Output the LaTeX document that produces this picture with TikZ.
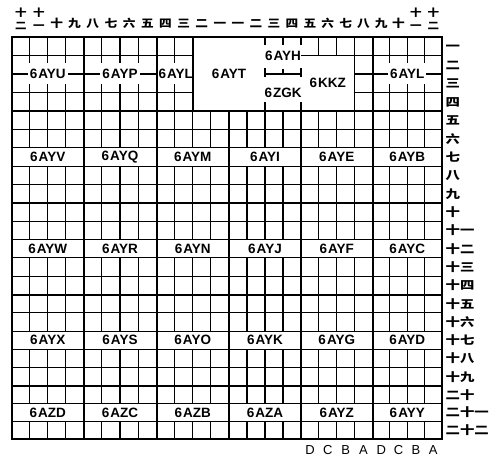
\documentclass[tikz,border=0pt]{standalone}
\usepackage{fontspec}
\usetikzlibrary{calc}
\setmainfont{Liberation Sans}
\newfontfamily\cjk{Noto Sans CJK SC}
\newcommand\wide[2]{\scalebox{#1}[1]{#2}}
\begin{document}
\begin{tikzpicture}[x=1pt,y=-1pt,
  gridthin/.style={line width=1.1pt},
  gridthick/.style={line width=2pt},
  code/.style={font=\bfseries\fontsize{13.5}{16}\selectfont, inner xsep=2pt, inner ysep=1pt},
  codebg/.style={code, fill=white},
  numtop/.style={font=\cjk\bfseries\fontsize{11}{11}\selectfont, inner sep=0pt, anchor=base},
  numtopsm/.style={font=\cjk\bfseries\fontsize{10}{10}\selectfont, inner sep=0pt, anchor=base},
  numright/.style={font=\cjk\bfseries\fontsize{11.5}{11.5}\selectfont, inner sep=0pt, anchor=base west},
  abcd/.style={font=\fontsize{13}{13}\selectfont, inner sep=0pt, anchor=base}]
\useasboundingbox (0,0) rectangle (494,457);
\def\xlist{{12,29.875,47.75,65.625,83.5,101.75,120,138.25,156.5,174.625,192.75,210.875,229,247,265,283,301,318.875,336.75,354.625,372.5,389.875,407.25,424.625,442}}
\def\ylist{{37,55.5,74,92.5,111,129.4,147.8,166.2,184.6,203,221.3,239.6,257.9,276.2,294.5,312.8,331.1,349.4,367.7,386,403.67,421.33,439}}
\foreach \i in {0,...,24}{
  \foreach \j in {0,...,22}{
    \pgfmathsetmacro\xx{\xlist[\i]}
    \pgfmathsetmacro\yy{\ylist[\j]}
    \coordinate (p\i-\j) at (\xx,\yy);
  }
}
% ---- first big row ----
\draw[gridthin] (p0-1) -- (p10-1) (p0-2) -- (p10-2) (p0-3) -- (p10-3);
\foreach \i in {1,2,3,5,6,7,9,21,22,23}{
  \draw[gridthin] (p\i-0) -- (p\i-1) -- ++(0,8);
  \draw[gridthin] (p\i-4) -- (p\i-3) -- ++(0,-8);
}
\foreach \i in {14,15,16} \draw[gridthin] (p\i-0) -- ++(0,8);
\draw[gridthin] (p14-2) -- (p16-2);
\draw[gridthin] (p14-2) ++(0,-6) -- ++(0,9);
\draw[gridthin] (p16-2) ++(0,-6) -- ++(0,9);
\draw[gridthin] (p15-2) -- ++(0,-5);
\foreach \i in {14,16} \draw[gridthin] (p\i-4) -- ++(0,-9);
\draw[gridthin] (p16-1) -- (p24-1);
\foreach \i in {17,18} \draw[gridthin] (p\i-0) -- (p\i-1);
\draw[gridthin] (p19-0) -- (p19-4);
\draw[gridthin] (p19-2) -- (p24-2) (p19-3) -- (p24-3);
% ---- regular big rows ----
\foreach \j in {5,6,7,8,10,11,12,13,15,16,17,18,20,21} \draw[gridthin] (p0-\j) -- (p24-\j);
\foreach \i in {1,2,3,5,6,7,9,10,11,13,14,15,17,18,19,21,22,23}{
  \draw[gridthin] (p\i-4) -- (p\i-6) (p\i-7) -- (p\i-11) (p\i-12) -- (p\i-16) (p\i-17) -- (p\i-20) (p\i-21) -- (p\i-22);
}
% ---- labels of the first big row ----
\node[codebg] (u1) at (p2-2) {6\kern1pt AYU};
\node[codebg] (u2) at (p6-2) {6\kern1pt AYP};
\node[codebg] (u3) at ($(p10-2)+(-17,0)$) {6\kern1pt AYL};
\node[code] (u4) at (p12-2) {6\kern1pt AYT};
\node[code] (u5) at (p15-1) {6\kern1pt AYH};
\node[code] (u6) at (p15-3) {6\kern1pt ZGK};
\node[code] (u7) at ($(p16-1)!.5!(p19-4)$) {6\kern1pt KKZ};
\node[codebg] (u8) at (p22-2) {6\kern1pt AYL};
% ---- labels of the other rows ----
\foreach \t [count=\k from 0] in {AYV,AYQ,AYM,AYI,AYE,AYB}{
  \pgfmathtruncatemacro\ii{4*\k+2}
  \node[code] (ra\k) at ($(p\ii-6)!.5!(p\ii-7)$) {6\kern1pt \t};}
\foreach \t [count=\k from 0] in {AYW,AYR,AYN,AYJ,AYF,AYC}{
  \pgfmathtruncatemacro\ii{4*\k+2}
  \node[code] (rb\k) at ($(p\ii-11)!.5!(p\ii-12)$) {6\kern1pt \t};}
\foreach \t [count=\k from 0] in {AYX,AYS,AYO,AYK,AYG,AYD}{
  \pgfmathtruncatemacro\ii{4*\k+2}
  \node[code] (rc\k) at ($(p\ii-16)!.5!(p\ii-17)$) {6\kern1pt \t};}
\foreach \t [count=\k from 0] in {AZD,AZC,AZB,AZA,AYZ,AYY}{
  \pgfmathtruncatemacro\ii{4*\k+2}
  \node[code] (rd\k) at ($(p\ii-20)!.5!(p\ii-21)$) {6\kern1pt \t};}
% ---- thick lines ----
\foreach \j in {4,9,14,19} \draw[gridthick] (p0-\j) -- (p24-\j);
\foreach \i in {4,8,20} \draw[gridthick] (p\i-0) -- (p\i-22);
\foreach \i in {12,16} \draw[gridthick] (p\i-4) -- (p\i-22);
\draw[gridthick] (p10-0) -- (p10-4);
\draw[gridthick] (p0-0) rectangle (p24-22);
% ---- top numbers ----
\foreach \t [count=\c from 2] in {十,九,八,七,六,五,四,三,二,一,一,二,三,四,五,六,七,八,九,十}{
  \pgfmathtruncatemacro\cn{\c+1}
  \node[numtop] (top\c) at ($(p\c-0)!.5!(p\cn-0)+(0,-9.5)$) {\wide{1.15}{\t}};}
\foreach \t/\b/\a/\n in {二/0/1/a,一/1/2/b,一/22/23/c,二/23/24/d}{
  \node[numtopsm] (st\n) at ($(p\b-0)!.5!(p\a-0)+(0,-20.5)$) {\wide{1.15}{十}};
  \node[numtopsm] (sb\n) at ($(p\b-0)!.5!(p\a-0)+(0,-7)$) {\wide{1.15}{\t}};}
% ---- right numbers ----
\foreach \t [count=\r from 0] in {一,二,三,四,五,六,七,八,九,十,十一,十二,十三,十四,十五,十六,十七,十八,十九,二十,二十一,二十二}{
  \pgfmathtruncatemacro\rn{\r+1}
  \node[numright] (rt\r) at ($(p24-\r)!.5!(p24-\rn)+(3.5,4.4)$) {\wide{1.25}{\t}};}
% ---- bottom letters ----
\foreach \t [count=\c from 16] in {D,C,B,A,D,C,B,A}{
  \pgfmathtruncatemacro\cn{\c+1}
  \node[abcd] (bt\c) at ($(p\c-22)!.5!(p\cn-22)+(0,15.5)$) {\t};}
\end{tikzpicture}
\end{document}
